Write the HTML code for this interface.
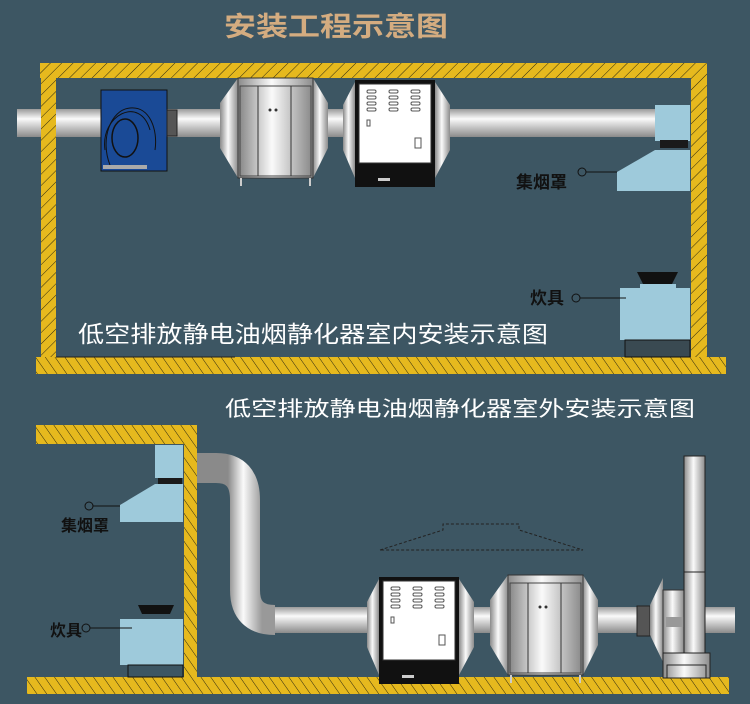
<!DOCTYPE html>
<html><head><meta charset="utf-8"><style>
body{margin:0;background:#3d5663;}
svg{display:block}
text{font-family:"Liberation Sans","Noto Sans CJK SC",sans-serif}
</style></head><body>
<svg width="750" height="704" viewBox="0 0 750 704" xmlns="http://www.w3.org/2000/svg">
<defs>
<pattern id="h1" width="8" height="8" patternUnits="userSpaceOnUse" patternTransform="rotate(45)">
<rect width="8" height="8" fill="#e6b91e"/><line x1="0" y1="0" x2="0" y2="8" stroke="#2e2a10" stroke-width="1"/></pattern>
<pattern id="h2" width="8" height="8" patternUnits="userSpaceOnUse" patternTransform="rotate(-35)">
<rect width="8" height="8" fill="#e6b91e"/><line x1="0" y1="0" x2="0" y2="8" stroke="#2e2a10" stroke-width="1"/></pattern>
<linearGradient id="pv" x1="0" y1="0" x2="0" y2="1"><stop offset="0" stop-color="#9a9a9a"/><stop offset=".35" stop-color="#fafafa"/><stop offset="1" stop-color="#8a8a8a"/></linearGradient>
<linearGradient id="ph" x1="0" y1="0" x2="1" y2="0"><stop offset="0" stop-color="#8a8a8a"/><stop offset=".45" stop-color="#fafafa"/><stop offset="1" stop-color="#8c8c8c"/></linearGradient>
<linearGradient id="duct" gradientUnits="userSpaceOnUse" x1="228" y1="0" x2="262" y2="0"><stop offset="0" stop-color="#8a8a8a"/><stop offset=".45" stop-color="#fafafa"/><stop offset="1" stop-color="#999"/></linearGradient>
<g id="filt">
<polygon points="0,25 18,0 18,100 0,70" fill="url(#ph)"/>
<polygon points="108,25 93,0 93,100 108,70" fill="url(#ph)"/>
<rect x="18" y="0" width="75" height="100" fill="url(#ph)" stroke="#333"/>
<rect x="20" y="8" width="71" height="90" fill="url(#ph)" stroke="#444"/>
<line x1="38" y1="8" x2="38" y2="98" stroke="#333"/><line x1="71" y1="8" x2="71" y2="98" stroke="#333"/>
<circle cx="50" cy="32" r="1.5" fill="#333"/><circle cx="56" cy="32" r="1.5" fill="#333"/>
<rect x="20" y="100" width="2" height="8" fill="#ccc"/><rect x="89" y="100" width="2" height="8" fill="#ccc"/>
</g>
<g id="esp">
<polygon points="0,25 12,2 12,98 0,70" fill="url(#ph)"/>
<polygon points="107,25 92,2 92,98 107,70" fill="url(#ph)"/>
<rect x="12" y="0" width="80" height="107" fill="#111"/>
<rect x="16" y="4" width="72" height="79" fill="#fff" stroke="#333"/>
<rect x="35" y="98" width="12" height="3" fill="#ccc"/>
<g fill="none" stroke="#555" stroke-width="1">
<rect x="24" y="10" width="9" height="3" rx="1.5"/><rect x="24" y="16" width="9" height="3" rx="1.5"/><rect x="24" y="22" width="9" height="3" rx="1.5"/><rect x="24" y="28" width="9" height="3" rx="1.5"/>
<rect x="46" y="10" width="9" height="3" rx="1.5"/><rect x="46" y="16" width="9" height="3" rx="1.5"/><rect x="46" y="22" width="9" height="3" rx="1.5"/><rect x="46" y="28" width="9" height="3" rx="1.5"/>
<rect x="68" y="10" width="9" height="3" rx="1.5"/><rect x="68" y="16" width="9" height="3" rx="1.5"/><rect x="68" y="22" width="9" height="3" rx="1.5"/><rect x="68" y="28" width="9" height="3" rx="1.5"/>
<rect x="72" y="58" width="6" height="10"/><rect x="24" y="40" width="3" height="6"/></g>
</g>
</defs>

<text x="224" y="36" font-size="27" font-weight="bold" fill="#d4ac80" textLength="224" lengthAdjust="spacingAndGlyphs">安装工程示意图</text>

<!-- top scene -->
<rect x="17" y="109" width="640" height="28" fill="url(#pv)"/>
<rect x="40" y="63" width="667" height="15" fill="url(#h1)"/>
<rect x="41" y="63" width="15" height="295" fill="url(#h1)"/>
<rect x="691" y="78" width="16" height="280" fill="url(#h1)"/>
<rect x="36" y="357" width="690" height="17" fill="url(#h2)"/>
<line x1="56" y1="357" x2="235" y2="357" stroke="#222"/>
<rect x="101" y="90" width="66" height="81" fill="#1a4a96" stroke="#111"/>
<ellipse cx="125" cy="138" rx="13" ry="19" fill="none" stroke="#111" stroke-width="1.5"/>
<path d="M110,165 C100,140 110,110 130,108 C150,106 158,130 155,150" fill="none" stroke="#111"/>
<path d="M105,150 C100,115 140,95 150,130" fill="none" stroke="#111"/>
<rect x="103" y="165" width="44" height="4" fill="#aaa"/>
<rect x="167" y="110" width="10" height="26" fill="#555" stroke="#222"/>
<use href="#filt" x="220" y="78"/>
<use href="#esp" x="343" y="80"/>
<rect x="655" y="105" width="35" height="36" fill="#9ecadb"/>
<rect x="660" y="140" width="28" height="8" fill="#1a1a1a"/>
<polygon points="655,150 690,150 690,191 617,191 617,172" fill="#9ecadb"/>
<circle cx="582" cy="172" r="4" fill="none" stroke="#111"/><line x1="586" y1="172" x2="617" y2="172" stroke="#111"/>
<text x="516" y="188" font-size="17" font-weight="bold" fill="#111">集烟罩</text>
<polygon points="637,272 678,272 672,284 643,284" fill="#111"/>
<rect x="640" y="284" width="36" height="4" fill="#9ecadb"/>
<rect x="620" y="288" width="70" height="52" fill="#9ecadb"/>
<rect x="625" y="340" width="65" height="17" fill="#3a4a52" stroke="#111"/>
<circle cx="576" cy="298" r="4" fill="none" stroke="#111"/><line x1="580" y1="298" x2="626" y2="298" stroke="#111"/>
<text x="530" y="304" font-size="17" font-weight="bold" fill="#111">炊具</text>
<text x="78" y="342" font-size="23" fill="#fff" textLength="470" lengthAdjust="spacingAndGlyphs">低空排放静电油烟静化器室内安装示意图</text>

<!-- bottom scene -->
<text x="225" y="416" font-size="21" fill="#fff" textLength="470" lengthAdjust="spacingAndGlyphs">低空排放静电油烟静化器室外安装示意图</text>
<rect x="270" y="607" width="465" height="26" fill="url(#pv)"/>
<path d="M197,468 H216 Q245,468 245,500 V590 Q245,620 275,620" fill="none" stroke="url(#duct)" stroke-width="30"/>
<rect x="36" y="425" width="161" height="19" fill="url(#h2)"/>
<rect x="184" y="444" width="13" height="234" fill="url(#h2)"/>
<rect x="27" y="677" width="702" height="17" fill="url(#h2)"/>
<rect x="155" y="445" width="28" height="33" fill="#9ecadb"/>
<rect x="158" y="478" width="24" height="6" fill="#1a1a1a"/>
<polygon points="155,484 183,484 183,522 120,522 120,505" fill="#9ecadb"/>
<circle cx="89" cy="506" r="4" fill="none" stroke="#111"/><line x1="93" y1="506" x2="120" y2="506" stroke="#111"/>
<text x="61" y="531" font-size="16" font-weight="bold" fill="#111">集烟罩</text>
<polygon points="138,605 174,605 170,614 142,614" fill="#111"/>
<rect x="120" y="619" width="63" height="46" fill="#9ecadb"/>
<rect x="128" y="665" width="55" height="12" fill="#3d5663" stroke="#111"/>
<circle cx="86" cy="628" r="4" fill="none" stroke="#111"/><line x1="90" y1="628" x2="132" y2="628" stroke="#111"/>
<text x="50" y="636" font-size="16" font-weight="bold" fill="#111">炊具</text>
<path d="M380,550 L443,530 V524 H519 V530 L583,550 Z" fill="none" stroke="#222" stroke-dasharray="3,2"/>
<use href="#esp" x="367" y="577"/>
<use href="#filt" x="490" y="575"/>
<rect x="637" y="606" width="13" height="30" fill="#555" stroke="#222"/>
<polygon points="650,605 663,578 663,662 650,635" fill="url(#ph)"/>
<rect x="663" y="590" width="21" height="63" fill="url(#ph)" stroke="#333"/>
<rect x="666" y="617" width="18" height="10" fill="#999"/>
<rect x="684" y="456" width="21" height="198" fill="url(#ph)" stroke="#222"/>
<line x1="684" y1="572" x2="705" y2="572" stroke="#222"/>
<rect x="663" y="653" width="47" height="25" fill="url(#ph)" stroke="#222"/>
<rect x="667" y="665" width="39" height="13" fill="none" stroke="#222"/>
</svg>
</body></html>
